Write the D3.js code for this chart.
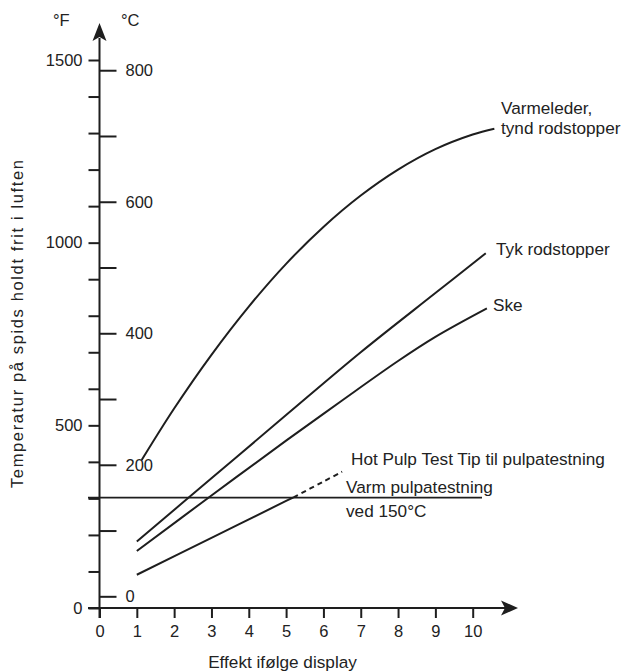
<!DOCTYPE html>
<html>
<head>
<meta charset="utf-8">
<script src="https://cdn.jsdelivr.net/npm/d3@7"></script>
<style>
  html, body { margin: 0; padding: 0; background: #fff; }
  svg { display: block; }
  text { font-family: "Liberation Sans", Arial, sans-serif; fill: #222; }
</style>
</head>
<body>
<script>
// Power setting on the display (x) and tip temperature in °F (y)
const powerTicks = [0, 1, 2, 3, 4, 5, 6, 7, 8, 9, 10];
const fahrenheitTicks = d3.range(0, 1501, 100);
const fahrenheitLabels = [0, 500, 1000, 1500];
const celsiusTicks = d3.range(0, 801, 100);
const celsiusLabels = [0, 200, 400, 600, 800];

const varmelederPower = [1.13, 2, 3, 4, 5, 6, 7, 8, 9, 10, 10.58];
const varmelederTemp  = [405, 546, 693, 825, 942, 1043, 1129, 1200, 1256, 1296, 1312];

const tykPower = [1, 3, 5, 7, 9, 10.35];
const tykTemp  = [182, 355, 528, 700, 862, 971];

const skePower = [1, 3, 5, 6.5, 8, 9, 10.38];
const skeTemp  = [156, 308, 458, 568, 676, 742, 820];

const hotPulpSolidPower  = [1, 3, 5, 5.2];
const hotPulpSolidTemp   = [91, 192, 293, 303];
const hotPulpDashedPower = [5.2, 6, 6.5];
const hotPulpDashedTemp  = [303, 346, 373];

// Reference line: hot pulp test at 150 °C
const pulpTestCelsius = 150;

const W = 627, H = 671;
const ink = "#1e1e1e";
const toF = c => c * 9 / 5 + 32;

const svg = d3.select("body").append("svg")
  .attr("width", W).attr("height", H);

const x = d3.scaleLinear().domain([0, 10]).range([99.5, 472.7]);
const y = d3.scaleLinear().domain([0, 1500]).range([608, 60]);
const yC = d3.scaleLinear().domain([0, 800]).range([y(toF(0)), y(toF(800))]);

// Fahrenheit axis (left side of the vertical line)
const fAxis = svg.append("g")
  .attr("transform", `translate(${x(0)},0)`)
  .call(d3.axisLeft(y)
    .tickValues(fahrenheitTicks)
    .tickSize(11)
    .tickPadding(6)
    .tickFormat(d => fahrenheitLabels.includes(d) ? d : ""));
fAxis.select(".domain").remove();

// Celsius axis (right side of the vertical line)
const cAxis = svg.append("g")
  .attr("transform", `translate(${x(0)},0)`)
  .call(d3.axisRight(yC)
    .tickValues(celsiusTicks)
    .tickSize(17)
    .tickPadding(9)
    .tickFormat(d => celsiusLabels.includes(d) ? d : ""));
cAxis.select(".domain").remove();

// Power axis
const xAxis = svg.append("g")
  .attr("transform", `translate(0,${y(0)})`)
  .call(d3.axisBottom(x)
    .tickValues(powerTicks)
    .tickSize(10)
    .tickPadding(7.5));
xAxis.select(".domain").remove();

svg.selectAll(".tick line").attr("stroke", ink).attr("stroke-width", 2);
svg.selectAll(".tick text")
  .attr("font-size", 16.5)
  .attr("font-family", "Liberation Sans, Arial, sans-serif")
  .attr("fill", "#222");

// Axis lines with arrowheads
svg.append("line")
  .attr("x1", x(0)).attr("x2", x(0))
  .attr("y1", y(0) + 10).attr("y2", 38)
  .attr("stroke", ink).attr("stroke-width", 2);
svg.append("path")
  .attr("d", `M${x(0)},23 L${x(0) + 7},41 L${x(0)},37 L${x(0) - 7},41 Z`)
  .attr("fill", ink);

svg.append("line")
  .attr("x1", 88).attr("x2", 506)
  .attr("y1", y(0)).attr("y2", y(0))
  .attr("stroke", ink).attr("stroke-width", 2);
svg.append("path")
  .attr("d", `M518,${y(0)} L501,${y(0) - 7.5} L505,${y(0)} L501,${y(0) + 7.5} Z`)
  .attr("fill", ink);

// Unit headers
svg.append("text").attr("x", 53).attr("y", 26).attr("font-size", 16.5).text("°F");
svg.append("text").attr("x", 121).attr("y", 26).attr("font-size", 16.5).text("°C");

// Hot pulp test reference line
svg.append("line")
  .attr("x1", 88).attr("x2", 482)
  .attr("y1", y(toF(pulpTestCelsius))).attr("y2", y(toF(pulpTestCelsius)))
  .attr("stroke", ink).attr("stroke-width", 1.6);

// Curves
const line = d3.line()
  .x(d => x(d[0]))
  .y(d => y(d[1]))
  .curve(d3.curveCatmullRom.alpha(0.5));

const series = [
  { p: varmelederPower, t: varmelederTemp, dash: null },
  { p: tykPower, t: tykTemp, dash: null },
  { p: skePower, t: skeTemp, dash: null },
  { p: hotPulpSolidPower, t: hotPulpSolidTemp, dash: null },
  { p: hotPulpDashedPower, t: hotPulpDashedTemp, dash: "5,4" }
];

svg.append("g").selectAll("path")
  .data(series)
  .join("path")
  .attr("d", s => line(d3.zip(s.p, s.t)))
  .attr("fill", "none")
  .attr("stroke", ink)
  .attr("stroke-width", 2)
  .attr("stroke-dasharray", s => s.dash);

// Curve labels
const labels = [
  { x: 501, y: 113.5, t: "Varmeleder," },
  { x: 501, y: 134, t: "tynd rodstopper" },
  { x: 496, y: 255, t: "Tyk rodstopper" },
  { x: 493, y: 310.5, t: "Ske" },
  { x: 351, y: 465, t: "Hot Pulp Test Tip til pulpatestning" },
  { x: 346, y: 493, t: "Varm pulpatestning" },
  { x: 346, y: 517, t: "ved 150°C" }
];
svg.append("g").selectAll("text")
  .data(labels)
  .join("text")
  .attr("x", d => d.x).attr("y", d => d.y)
  .attr("font-size", 17.2)
  .text(d => d.t);

// Axis titles
svg.append("text")
  .attr("x", 282.5).attr("y", 668)
  .attr("text-anchor", "middle")
  .attr("font-size", 17.2)
  .text("Effekt ifølge display");

svg.append("text")
  .attr("transform", "translate(23,488) rotate(-90)")
  .attr("x", 0).attr("y", 0)
  .attr("font-size", 16.5)
  .attr("textLength", 328)
  .attr("lengthAdjust", "spacing")
  .text("Temperatur på spids holdt frit i luften");
</script>
</body>
</html>
